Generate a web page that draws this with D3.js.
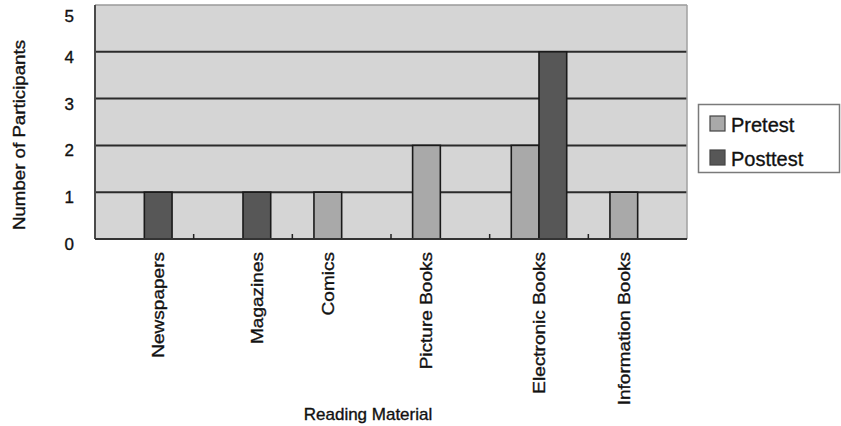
<!DOCTYPE html>
<html>
<head>
<meta charset="utf-8">
<script src="https://cdn.jsdelivr.net/npm/d3@7"></script>
<style>
  html, body { margin: 0; padding: 0; background: #fff; }
  svg { display: block; font-family: "Liberation Sans", Arial, Helvetica, sans-serif; }
  svg text { fill: #111; stroke: #111; stroke-width: 0.35px; }
</style>
</head>
<body>
<svg id="chart" width="841" height="426"></svg>
<script>
// Reading material choices, pretest vs posttest
const categories = ["Newspapers", "Magazines", "Comics", "Picture Books", "Electronic Books", "Information Books"];
const seriesNames = ["Pretest", "Posttest"];
const pretest = [0, 0, 1, 2, 2, 1];
const posttest = [1, 1, 0, 0, 4, 0];
const yTicks = [0, 1, 2, 3, 4, 5];
const seriesColors = ["#a9a9a9", "#575757"];

const svg = d3.select("#chart");
const plot = { left: 95, right: 687, top: 5, bottom: 239 };

const x0 = d3.scaleBand()
  .domain(categories)
  .range([plot.left, plot.right])
  .paddingInner(0)
  .paddingOuter(0);

const x1 = d3.scaleBand()
  .domain(seriesNames)
  .range([0, x0.bandwidth()])
  .paddingInner(0)
  .paddingOuter(0.78);

const y = d3.scaleLinear()
  .domain([0, 5])
  .range([plot.bottom, plot.top]);

const values = { Pretest: pretest, Posttest: posttest };
const color = d3.scaleOrdinal().domain(seriesNames).range(seriesColors);

// Plot background
svg.append("rect")
  .attr("x", plot.left)
  .attr("y", plot.top)
  .attr("width", plot.right - plot.left)
  .attr("height", plot.bottom - plot.top)
  .attr("fill", "#d5d5d5");

// Horizontal gridlines
svg.append("g")
  .selectAll("line")
  .data(yTicks.filter(v => v > 0 && v < 5))
  .join("line")
  .attr("x1", plot.left)
  .attr("x2", plot.right)
  .attr("y1", d => y(d))
  .attr("y2", d => y(d))
  .attr("stroke", "#2b2b2b")
  .attr("stroke-width", 2);

// Top and right frame edges
svg.append("line")
  .attr("x1", plot.left).attr("x2", plot.right)
  .attr("y1", y(5)).attr("y2", y(5))
  .attr("stroke", "#9a9a9a").attr("stroke-width", 1.5);
svg.append("line")
  .attr("x1", plot.right).attr("x2", plot.right)
  .attr("y1", y(5)).attr("y2", y(0))
  .attr("stroke", "#a0a0a0").attr("stroke-width", 1.5);

// Bars
const barData = [];
categories.forEach((c, i) => {
  seriesNames.forEach(s => {
    barData.push({ category: c, series: s, value: values[s][i] });
  });
});

svg.append("g")
  .selectAll("rect")
  .data(barData.filter(d => d.value > 0))
  .join("rect")
  .attr("x", d => x0(d.category) + x1(d.series))
  .attr("y", d => y(d.value))
  .attr("width", x1.bandwidth())
  .attr("height", d => y(0) - y(d.value))
  .attr("fill", d => color(d.series))
  .attr("stroke", "#1a1a1a")
  .attr("stroke-width", 1.6);

// Left and bottom axis lines
svg.append("line")
  .attr("x1", plot.left).attr("x2", plot.left)
  .attr("y1", y(5)).attr("y2", y(0))
  .attr("stroke", "#4a4a4a").attr("stroke-width", 2);
svg.append("line")
  .attr("x1", plot.left).attr("x2", plot.right)
  .attr("y1", y(0)).attr("y2", y(0))
  .attr("stroke", "#333").attr("stroke-width", 2);

// Category boundary ticks along the bottom
svg.append("g")
  .selectAll("line")
  .data(categories.slice(1))
  .join("line")
  .attr("x1", d => x0(d))
  .attr("x2", d => x0(d))
  .attr("y1", y(0))
  .attr("y2", y(0) - 5)
  .attr("stroke", "#222")
  .attr("stroke-width", 1.5);

// Y tick labels
svg.append("g")
  .selectAll("text")
  .data(yTicks)
  .join("text")
  .attr("x", 74)
  .attr("y", d => y(d) + (d === 5 ? 11 : 5))
  .attr("dy", "0.35em")
  .attr("text-anchor", "end")
  .attr("font-size", 17)
  .text(d => d);

// Category labels, centred under the bars that carry a value
const labelX = categories.map((c, i) => {
  const centers = seriesNames
    .filter(s => values[s][i] > 0)
    .map(s => x0(c) + x1(s) + x1.bandwidth() / 2);
  return centers.length ? d3.mean(centers) : x0(c) + x0.bandwidth() / 2;
});

svg.append("g")
  .selectAll("text")
  .data(categories)
  .join("text")
  .attr("transform", (d, i) => `translate(${labelX[i]},252) rotate(-90) scale(1.12,1)`)
  .attr("dy", "0.35em")
  .attr("text-anchor", "end")
  .attr("font-size", 17)
  .text(d => d);

// Axis titles
svg.append("text")
  .attr("x", 368)
  .attr("y", 420)
  .attr("text-anchor", "middle")
  .attr("font-size", 17)
  .text("Reading Material");

svg.append("text")
  .attr("transform", "translate(25,135) rotate(-90) scale(1.1,1)")
  .attr("text-anchor", "middle")
  .attr("font-size", 17)
  .text("Number of Participants");

// Legend
const legend = svg.append("g");
legend.append("rect")
  .attr("x", 698.5)
  .attr("y", 104.5)
  .attr("width", 141)
  .attr("height", 68)
  .attr("fill", "#fff")
  .attr("stroke", "#7a7a7a")
  .attr("stroke-width", 1.5);

const legendItems = legend.selectAll("g")
  .data(seriesNames)
  .join("g")
  .attr("transform", (d, i) => `translate(710,${116 + i * 34})`);

legendItems.append("rect")
  .attr("width", 15)
  .attr("height", 15)
  .attr("fill", d => color(d))
  .attr("stroke", "#444")
  .attr("stroke-width", 1.2);

legendItems.append("text")
  .attr("x", 21)
  .attr("y", 16)
  .attr("font-size", 20)
  .text(d => d);
</script>
</body>
</html>
